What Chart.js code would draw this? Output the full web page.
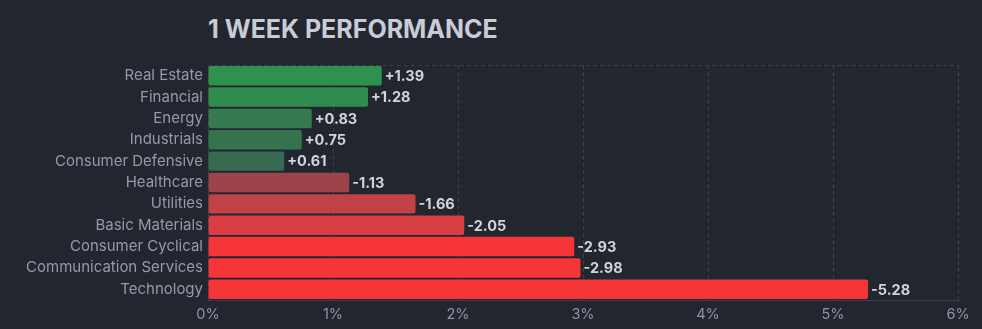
<!DOCTYPE html>
<html>
<head>
<meta charset="utf-8">
<script src="https://cdn.jsdelivr.net/npm/chart.js@4.4.1/dist/chart.umd.min.js"></script>
<style>
  html, body { margin: 0; padding: 0; background: #22262f; }
  #wrap { position: relative; width: 982px; height: 329px; }
  #title {
    position: absolute; left: 208px; top: 14px;
    font-family: Inter, sans-serif; font-weight: 700; font-size: 25px;
    color: #c9ccd8; line-height: 30px;
  }
  canvas { position: absolute; left: 0; top: 0; }
</style>
</head>
<body>
<div id="wrap">
  <div id="title">1 WEEK PERFORMANCE</div>
  <canvas id="perf-chart" width="982" height="329"></canvas>
</div>
<script>
const sectors = ['Real Estate', 'Financial', 'Energy', 'Industrials', 'Consumer Defensive', 'Healthcare',
  'Utilities', 'Basic Materials', 'Consumer Cyclical', 'Communication Services', 'Technology']
const changes = [1.39, 1.28, 0.83, 0.75, 0.61, -1.13, -1.66, -2.05, -2.93, -2.98, -5.28]
const barColors = ['#30914f', '#2f8c4e', '#357a50', '#35734f', '#376a50', '#9c434c',
  '#c04247', '#d83d41', '#f63538', '#f63538', '#f63538']
const xTicks = [0, 1, 2, 3, 4, 5, 6]

const gridColor = '#3b3f4b'

// labels like "+1.39" / "-2.05" next to each bar end
const valueLabels = {
  id: 'valueLabels',
  afterDatasetsDraw(chart) {
    const ctx = chart.ctx
    const meta = chart.getDatasetMeta(0)
    ctx.save()
    ctx.font = 'bold 14.5px Inter, sans-serif'
    ctx.fillStyle = '#d1d4dc'
    ctx.textAlign = 'left'
    ctx.textBaseline = 'middle'
    meta.data.forEach((bar, i) => {
      const v = changes[i]
      const txt = (v > 0 ? '+' : '-') + Math.abs(v).toFixed(2)
      ctx.fillText(txt, bar.x + 3, bar.y + 1)
    })
    ctx.restore()
  }
}

new Chart(document.getElementById('perf-chart'), {
  type: 'bar',
  data: {
    labels: sectors,
    datasets: [{
      data: changes.map(v => Math.abs(v)),
      backgroundColor: barColors,
      borderRadius: 2,
      borderSkipped: false,
      barPercentage: 0.91,
      categoryPercentage: 1
    }]
  },
  options: {
    indexAxis: 'y',
    responsive: false,
    animation: false,
    layout: {
      padding: { top: 65, right: 24, left: 0, bottom: 0 }
    },
    plugins: {
      legend: { display: false },
      tooltip: { enabled: false },
      title: { display: false }
    },
    scales: {
      x: {
        min: 0,
        max: 6,
        afterBuildTicks: (axis) => { axis.ticks = xTicks.map(v => ({ value: v })) },
        afterFit: (axis) => { axis.height = 29 },
        grid: {
          color: gridColor,
          drawTicks: false
        },
        border: { display: true, color: gridColor, dash: [4, 3] },
        ticks: {
          padding: 6,
          color: '#8f93a7',
          font: { family: 'Inter, sans-serif', size: 14.5 },
          callback: (v) => v + '%'
        }
      },
      y: {
        afterFit: (axis) => { axis.width = 208 },
        grid: {
          offset: true,
          drawTicks: false,
          color: (c) => (c.index === 0 || c.index === undefined) ? gridColor : 'transparent'
        },
        border: { display: false, dash: [4, 3] },
        ticks: {
          padding: 5,
          color: '#9599ad',
          font: { family: 'Inter, sans-serif', size: 15 }
        }
      }
    }
  },
  plugins: [valueLabels]
})
</script>
</body>
</html>
